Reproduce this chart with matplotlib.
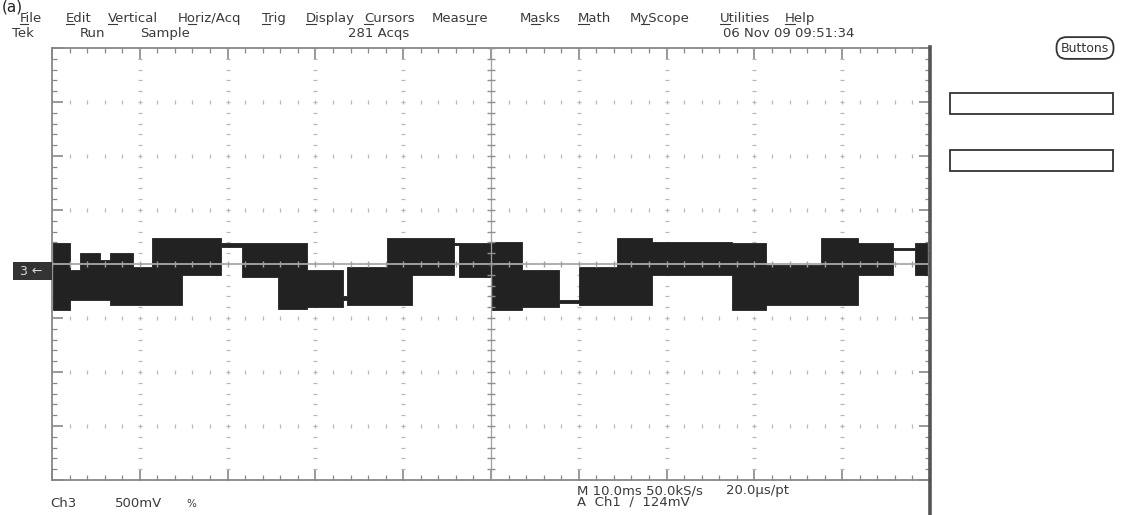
import numpy as np
import matplotlib
matplotlib.use("Agg")
import matplotlib.pyplot as plt
from matplotlib.patches import Rectangle
from matplotlib.lines import Line2D

plt.rcParams['font.family'] = ['DejaVu Sans']

# trace envelope (divisions): segment start times, upper and lower edge of the band
seg_start = [0.01, 0.20, 0.32, 0.55, 0.66, 0.92, 1.14, 1.48, 1.93, 2.16, 2.57, 2.90,
             3.31, 3.36, 3.81, 4.10, 4.58, 4.64, 5.01, 5.35, 5.77, 6.00, 6.43, 6.83,
             7.74, 8.13, 8.76, 9.18, 9.58, 9.83]
seg_top = [0.39, -0.11, 0.20, 0.07, 0.20, -0.06, 0.48, 0.48, 0.39, 0.39, 0.39, -0.11,
           -0.60, -0.06, 0.48, 0.48, 0.39, 0.39, 0.41, -0.11, -0.67, -0.06, 0.48, 0.41,
           0.39, -0.02, 0.48, 0.39, 0.30, 0.39]
seg_bottom = [-0.85, -0.67, -0.67, -0.67, -0.76, -0.76, -0.76, -0.20, 0.31, -0.24, -0.83, -0.80,
              -0.66, -0.76, -0.76, -0.20, 0.35, -0.24, -0.85, -0.80, -0.72, -0.76, -0.76, -0.20,
              -0.85, -0.76, -0.76, -0.20, 0.26, -0.20]
seg_end = 9.97

menu_items = ["File", "Edit", "Vertical", "Horiz/Acq", "Trig", "Display", "Cursors",
              "Measure", "Masks", "Math", "MyScope", "Utilities", "Help"]
menu_x = [20, 66, 108, 178, 262, 306, 364, 432, 520, 578, 630, 720, 785]
menu_key = [0, 0, 0, 1, 0, 0, 0, 4, 1, 0, 1, 0, 0]

W, H = 1130, 515
fig = plt.figure(figsize=(W / 100, H / 100), dpi=100)
fig.patch.set_facecolor('white')


def fx(x):
    return x / W


def fy(y):
    return 1 - y / H


# graticule
ax = fig.add_axes([fx(52), fy(480), fx(930) - fx(52), fy(48) - fy(480)])
ax.set_xlim(0, 10)
ax.set_ylim(-4, 4)

grid_col = '#b8b8b8'
xs = np.arange(0, 10.01, 0.2)
ys = np.arange(-4, 4.01, 0.2)
for k in range(1, 10):
    if k != 5:
        ax.plot(np.full(len(ys), k), ys, ls='none', marker='_', ms=3, mew=0.9, color=grid_col)
for k in range(-3, 4):
    if k != 0:
        ax.plot(xs, np.full(len(xs), k), ls='none', marker='|', ms=3, mew=0.9, color=grid_col)

# trace
tx = seg_start + [seg_end]
ax.fill_between(tx, seg_bottom + [seg_bottom[-1]], seg_top + [seg_top[-1]],
                step='post', color='#222222', linewidth=0.6, edgecolor='#222222', zorder=3)

# center axes with ticks
ax.axhline(0, color='#a8a8a8', lw=1.3, zorder=4)
ax.axvline(5, color='#a0a0a0', lw=0.9, zorder=4)
ax.plot(xs, np.zeros(len(xs)), ls='none', marker='|', ms=5, mew=1, color='#a0a0a0', zorder=4)
ax.plot(np.full(len(ys), 5), ys, ls='none', marker='_', ms=6, mew=1, color='#909090', zorder=4)

ax.set_xticks(range(0, 11))
ax.set_yticks(range(-4, 5))
ax.set_xticks(xs, minor=True)
ax.set_yticks(ys, minor=True)
ax.tick_params(which='both', direction='in', top=True, right=True,
               labelbottom=False, labelleft=False, color='#888888')
ax.tick_params(which='major', length=8, width=1.2)
ax.tick_params(which='minor', length=3.5, width=0.9)
for s in ax.spines.values():
    s.set_color('#888888')
    s.set_linewidth(1.3)
ax.spines['right'].set_visible(False)

# thick right border running to the bottom
fig.add_artist(Line2D([fx(930), fx(930)], [fy(47), 0], transform=fig.transFigure,
                      color='#555555', lw=2.6))

# channel marker
fig.add_artist(Rectangle((fx(13), fy(280)), fx(52) - fx(13), fy(262) - fy(280),
                         transform=fig.transFigure, facecolor='#333333', edgecolor='none'))
fig.text(fx(31), fy(275), "3 \u2190", color='#d8d8d8', fontsize=9, ha='center', va='baseline')

txt = dict(fontsize=9.5, color='#3a3a3a', va='baseline')

fig.text(fx(2), fy(0), "(a)", fontsize=11, color='#222222', va='top')

# menu bar with underlined access keys
renderer = fig.canvas.get_renderer()
for name, x, k in zip(menu_items, menu_x, menu_key):
    t = fig.text(fx(x), fy(22), name, **txt)
    pre = fig.text(fx(x), fy(22), name[:k], **txt)
    upto = fig.text(fx(x), fy(22), name[:k + 1], **txt)
    x0 = pre.get_window_extent(renderer).x1 if k > 0 else t.get_window_extent(renderer).x0
    x1 = upto.get_window_extent(renderer).x1
    pre.remove()
    upto.remove()
    fig.add_artist(Line2D([x0 / W, x1 / W], [fy(24), fy(24)], transform=fig.transFigure,
                          color='#3a3a3a', lw=0.8))

# status line
fig.text(fx(12), fy(37), "Tek", **txt)
fig.text(fx(80), fy(37), "Run", **txt)
fig.text(fx(140), fy(37), "Sample", **txt)
fig.text(fx(348), fy(37), "281 Acqs", **txt)
fig.text(fx(789), fy(37), "06 Nov 09 09:51:34", ha='center', **txt)

# bottom readout
fig.text(fx(50), fy(507), "Ch3", **txt)
fig.text(fx(115), fy(507), "500mV", **txt)
fig.text(fx(186), fy(507), "%", fontsize=7.5, color='#3a3a3a', va='baseline')
fig.text(fx(577), fy(494), "M 10.0ms 50.0kS/s", **txt)
fig.text(fx(726), fy(494), "20.0\u00b5s/pt", **txt)
fig.text(fx(577), fy(506), "A  Ch1  \u2215  124mV", **txt)

# right side panel
fig.text(fx(1085), fy(48), "Buttons", fontsize=9, color='#333333', ha='center', va='center',
         bbox=dict(boxstyle='round,pad=0.35,rounding_size=0.8', fc='white', ec='#333333', lw=1.3))
for y0, y1 in [(93, 114), (150, 171)]:
    fig.add_artist(Rectangle((fx(950), fy(y1)), fx(1113) - fx(950), fy(y0) - fy(y1),
                             transform=fig.transFigure, facecolor='white',
                             edgecolor='#333333', lw=1.3))

fig.savefig("out.png", dpi=100, facecolor='white')
